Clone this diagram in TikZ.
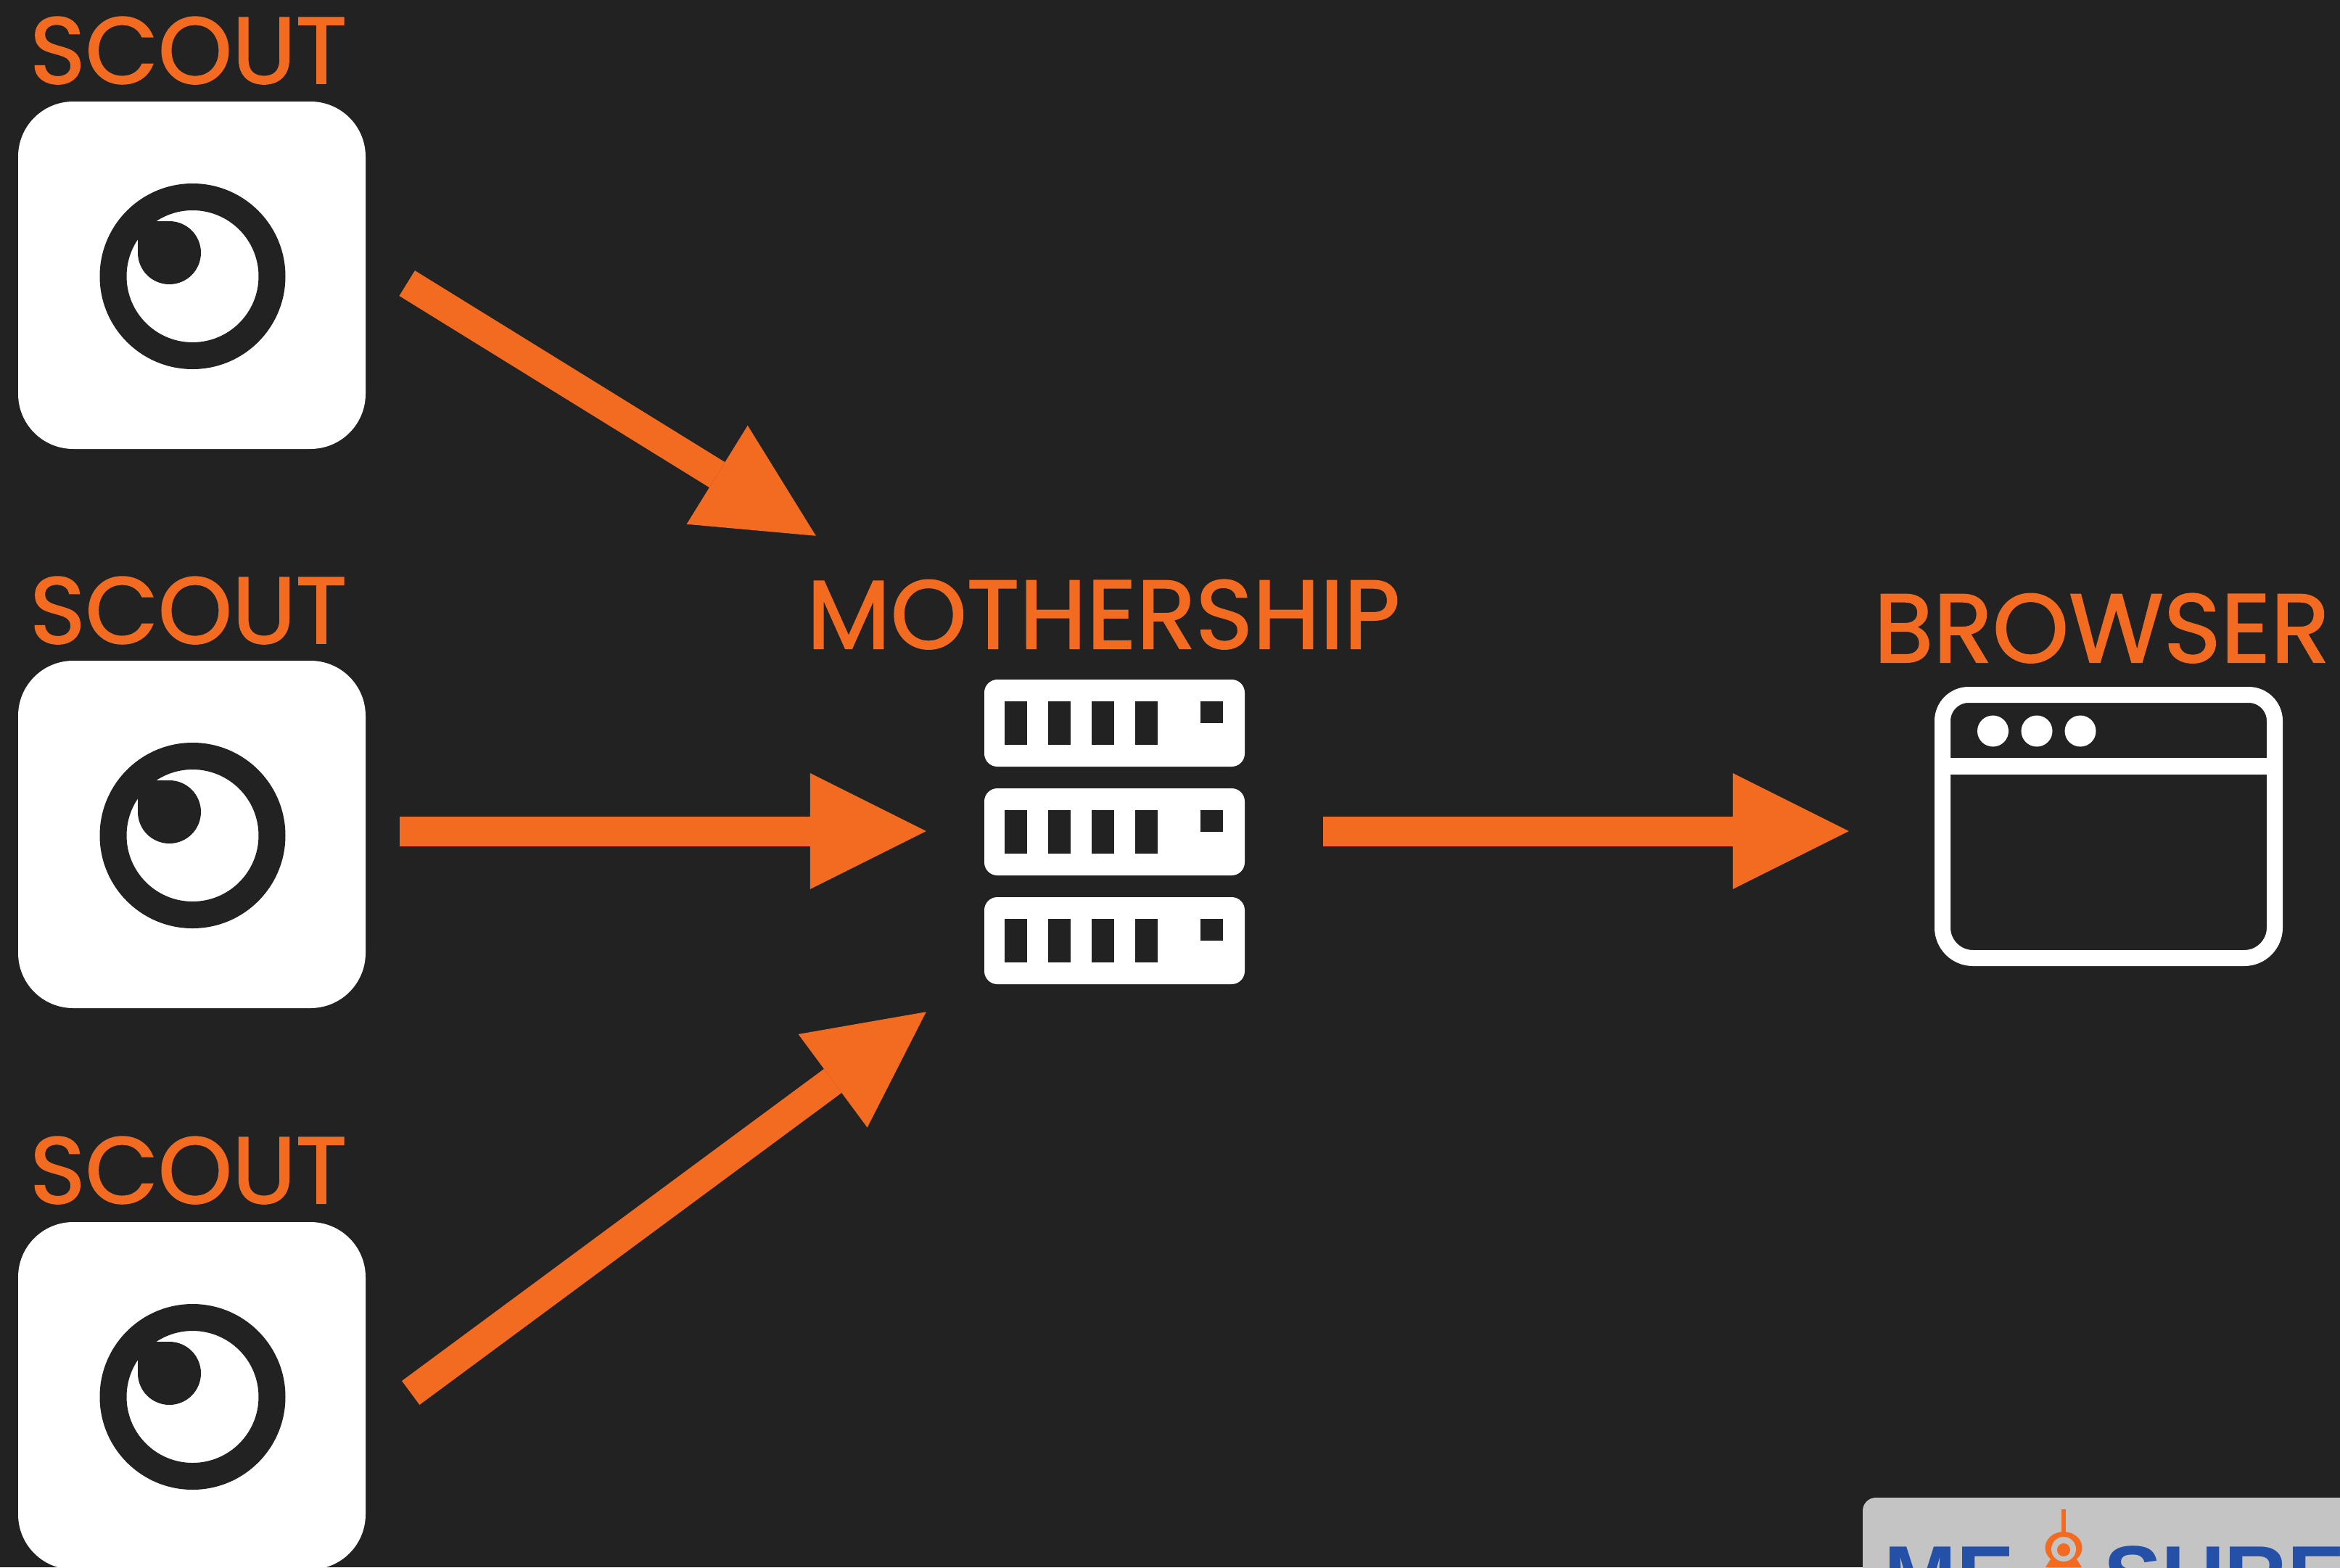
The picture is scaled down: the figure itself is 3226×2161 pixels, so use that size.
\documentclass[tikz,border=0pt]{standalone}
\usepackage{fontspec}
\newfontfamily\labelfont[FakeBold=1.5]{Poppins}
\newfontfamily\logofont{Liberation Sans}
\usetikzlibrary{arrows.meta,calc}
\definecolor{bgdark}{HTML}{222222}
\definecolor{flame}{HTML}{F26B21}
\definecolor{plate}{HTML}{C4C4C4}
\definecolor{logoblue}{HTML}{2450A8}
\tikzset{
  x=1pt,y=-1pt,
  lab/.style={anchor=base west,inner sep=0pt,text=flame,font=\labelfont\fontsize{#1}{#1}\selectfont},
  iconbox/.style={rectangle,rounded corners=76pt,fill=white,inner sep=0pt,minimum width=479pt,minimum height=479pt},
  rack/.style={rectangle,rounded corners=18pt,fill=white,inner sep=0pt,minimum width=359pt,minimum height=120pt},
  region/.style={rectangle,inner sep=0pt},
  flow/.style={draw=flame,line width=41pt,-{Triangle[length=160pt,width=160pt,line width=0pt,fill=flame]}},
  hole/.style={fill=bgdark},
  logotext/.style={anchor=base west,inner sep=0pt,text=logoblue,font=\logofont\bfseries\fontsize{120}{120}\selectfont}
}
\begin{document}
\begin{tikzpicture}
\path[use as bounding box,clip] (0,0) rectangle (3226,2161);
\fill[bgdark] (0,0) rectangle (3226,2161);
% scouts
\foreach \i/\dy in {1/0,2/771,3/1545}{
  \begin{scope}[shift={(0,\dy)}]
    \node[iconbox] (scout\i) at (264.5,379.5) {};
    \fill[hole,even odd rule] (265.5,381) circle[radius=128] circle[radius=91];
    \fill[hole] (233.5,348.5) circle[radius=43.5];
    \fill[hole] (190,305) rectangle (233.5,348.5);
  \end{scope}
}
\node[lab=130] (scoutlab1) at (41,115) {SCOUT};
\node[lab=130] (scoutlab2) at (41,887) {SCOUT};
\node[lab=130] (scoutlab3) at (41,1659) {SCOUT};
% server
\node[region,minimum width=359pt,minimum height=420pt] (server) at (1536.5,1147) {};
\foreach \i/\t in {1/937,2/1087,3/1237}{
  \node[rack] (rack\i) at (1536.5,\t+60) {};
  \foreach \sx in {1385,1445,1505,1565}{
    \fill[hole] (\sx,\t+30) rectangle (\sx+31,\t+90);
  }
  \fill[hole] (1655,\t+30) rectangle (1686,\t+60);
}
\node[lab=134] (motherlab) at (1112,894) {MOTHERSHIP};
% browser
\node[region,minimum width=480pt,minimum height=385pt] (browser) at (2907,1139.5) {};
\draw[white,line width=22pt,line join=round]
  (2678,994) arc[start angle=180,end angle=270,radius=36] -- (3100,958)
  arc[start angle=270,end angle=360,radius=36] -- (3136,1279)
  arc[start angle=0,end angle=90,radius=42] -- (2720,1321)
  arc[start angle=90,end angle=180,radius=42] -- cycle;
\fill[white] (2678,1045) rectangle (3136,1068);
\foreach \cx in {2747.5,2808,2868}{\fill[white] (\cx,1008) circle[radius=21.5];}
\node[lab=134] (browserlab) at (2583,913) {BROWSER};
% connectors
\draw[flow] ([shift={(57,11)}]scout1.east) -- ([shift={(-232,-198)}]server.north west);
\draw[flow] ([shift={(47,-4.5)}]scout2.east) -- ([shift={(-80,-1)}]server.west);
\draw[flow] ([shift={(62,-4)}]scout3.east) -- ([shift={(-80,38)}]server.south west);
\draw[flow] ([shift={(108,-1)}]server.east) -- ([shift={(-118,6.5)}]browser.west);
% logo plate
\fill[plate] (2568,2300) [rounded corners=18pt] -- (2568,2065) -- (3300,2065) -- (3300,2300);
\node[logotext] (logome) at (2597,2215) {ME};
\node[logotext] (logosure) at (2900,2215) {SURE};
\fill[flame] (2842,2081) rectangle (2848,2115);
\fill[flame] (2845,2134) ellipse[x radius=25.5,y radius=22];
\fill[flame] (2820,2161) -- (2870,2161) -- (2860,2145) -- (2830,2145) -- cycle;
\fill[plate] (2845,2136) circle[radius=17];
\fill[flame] (2845,2137) circle[radius=9];
\end{tikzpicture}
\end{document}
